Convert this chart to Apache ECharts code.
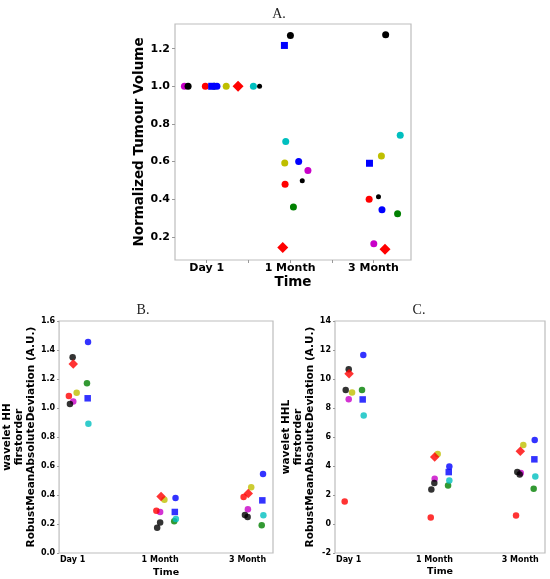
<!DOCTYPE html>
<html>
<head>
<meta charset="utf-8">
<script src="https://cdn.jsdelivr.net/npm/echarts@6/dist/echarts.min.js"></script>
<style>html,body{margin:0;padding:0;background:#fff}#c{width:550px;height:579px}</style>
</head>
<body>
<div id="c"></div>
<script>
// ---- data ----
const categories = ['Day 1', '1 Month', '3 Month'];
// patient order (draw order): green, magenta, black1, red, blueSquare, blue, yellow, redDiamond, cyan, black2
const patients = ['green', 'magenta', 'black1', 'red', 'blueSquare', 'blue', 'yellow', 'redDiamond', 'cyan', 'black2'];

// Panel A: normalized tumour volume
const volumeY = [
  [1.0, 0.358, 0.323],
  [1.0, 0.553, 0.163],
  [1.0, 1.270, 1.274],
  [1.0, 0.480, 0.400],
  [1.0, 1.217, 0.591],
  [1.0, 0.600, 0.344],
  [1.0, 0.593, 0.630],
  [1.0, 0.143, 0.134],
  [1.0, 0.707, 0.740],
  [1.0, 0.498, 0.413]
];
// horizontal jitter of each point from its category position
const volumeJitter = [
  [0.09, 0.04, 0.289],
  [-0.267, 0.214, 0.004],
  [-0.223, 0.004, 0.146],
  [-0.016, -0.06, -0.052],
  [0.06, -0.068, -0.048],
  [0.123, 0.103, 0.102],
  [0.234, -0.064, 0.095],
  [0.376, -0.088, 0.138],
  [0.56, -0.052, 0.321],
  [0.634, 0.146, 0.06]
];

// Panel B: wavelet HH firstorder RobustMeanAbsoluteDeviation
const hhY = [
  [1.17, 0.219, 0.191],
  [1.044, 0.283, 0.301],
  [1.35, 0.21, 0.248],
  [1.083, 0.292, 0.386],
  [1.067, 0.283, 0.363],
  [1.455, 0.379, 0.545],
  [1.106, 0.368, 0.453],
  [1.303, 0.389, 0.41],
  [0.892, 0.235, 0.26],
  [1.028, 0.175, 0.262]
];
const hhJitter = [
  [0.164, 0.161, 0.161],
  [0.007, 0.0, 0.003],
  [0.0, 0.0, 0.0],
  [-0.043, -0.043, -0.046],
  [0.172, 0.168, 0.168],
  [0.176, 0.176, 0.176],
  [0.046, 0.049, 0.041],
  [0.007, 0.011, 0.007],
  [0.18, 0.18, 0.18],
  [-0.031, -0.034, -0.031]
];

// Panel C: wavelet HHL firstorder RobustMeanAbsoluteDeviation
const hhlY = [
  [9.25, 2.66, 2.43],
  [8.61, 3.12, 3.51],
  [10.68, 2.82, 3.42],
  [1.55, 0.44, 0.58],
  [8.59, 3.58, 4.46],
  [11.65, 3.97, 5.79],
  [9.07, 4.82, 5.45],
  [10.36, 4.62, 5.01],
  [7.48, 3.0, 3.28],
  [9.25, 2.38, 3.58]
];
const hhlJitter = [
  [0.155, 0.159, 0.158],
  [0.0, 0.003, 0.007],
  [0.0, -0.001, -0.005],
  [-0.047, -0.043, -0.048],
  [0.163, 0.167, 0.166],
  [0.17, 0.174, 0.17],
  [0.039, 0.038, 0.037],
  [0.004, 0.003, 0.002],
  [0.175, 0.174, 0.177],
  [-0.035, -0.036, -0.033]
];

const volumeTicks = [0.2, 0.4, 0.6, 0.8, 1.0, 1.2];

// ---- styles ----
const colors = ['#008000', '#c800c8', '#000000', '#ff0000', '#0000ff', '#0000ff', '#bfbf00', '#ff0000', '#00bfbf', '#000000'];
const symbols = ['circle', 'circle', 'circle', 'circle', 'rect', 'circle', 'circle', 'diamond', 'circle', 'circle'];
const sizesA = [7, 7, 7, 7, 7, 7, 7, 11, 7, 5];
const sizesBC = [6.5, 6.5, 6.5, 6.5, 6.5, 6.5, 6.5, 9.5, 6.5, 6.5];
const FONT = 'DejaVu Sans';
const FRAME = '#bdbdbd';

function makeSeries(idx, Y, J, sizes, opacity) {
  return patients.map((p, i) => ({
    name: p,
    type: 'scatter',
    xAxisIndex: idx,
    yAxisIndex: idx,
    symbol: symbols[i],
    symbolSize: sizes[i],
    itemStyle: { color: colors[i], opacity: opacity },
    data: categories.map((c, k) => [k + J[i][k], Y[i][k]])
  }));
}

function xAxisDef(idx, min, max, fs, nameFs, gap, labMargin) {
  return {
    type: 'value', gridIndex: idx, min: min, max: max,
    name: 'Time', nameLocation: 'middle', nameGap: gap,
    nameTextStyle: { fontFamily: FONT, fontWeight: 'bold', fontSize: nameFs, color: '#000' },
    axisLine: { show: false, onZero: false },
    splitLine: { show: false },
    axisTick: { show: idx === 0, length: 3, lineStyle: { color: '#999' }, customValues: [0, 0.5, 1, 1.5, 2] },
    axisLabel: {
      customValues: [0, 1, 2], margin: labMargin,
      fontFamily: FONT, fontWeight: 'bold', fontSize: fs, color: '#000',
      formatter: v => categories[Math.round(v)]
    }
  };
}

const option = {
  animation: false,
  backgroundColor: '#fff',
  title: [
    { text: 'A.', left: 274, top: 2, textAlign: 'center', textStyle: { fontFamily: 'Liberation Serif', fontWeight: 'normal', fontSize: 14, color: '#222' } },
    { text: 'B.', left: 138, top: 298, textAlign: 'center', textStyle: { fontFamily: 'Liberation Serif', fontWeight: 'normal', fontSize: 14, color: '#222' } },
    { text: 'C.', left: 414, top: 298, textAlign: 'center', textStyle: { fontFamily: 'Liberation Serif', fontWeight: 'normal', fontSize: 14, color: '#222' } }
  ],
  grid: [
    { left: 175, top: 24, width: 236, height: 236, show: true, borderColor: FRAME, borderWidth: 1.2 },
    { left: 59, top: 321, width: 214, height: 232, show: true, borderColor: FRAME, borderWidth: 1.2 },
    { left: 335, top: 321, width: 210, height: 232, show: true, borderColor: FRAME, borderWidth: 1.2 }
  ],
  xAxis: [
    xAxisDef(0, -0.38, 2.45, 11, 13.5, 15, 3),
    xAxisDef(1, -0.155, 2.29, 8, 9.5, 15, 3),
    xAxisDef(2, -0.16, 2.29, 8, 9.5, 14, 3)
  ],
  yAxis: [
    {
      type: 'value', gridIndex: 0, min: 0.077, max: 1.331,
      name: 'Normalized Tumour Volume', nameLocation: 'middle', nameGap: 23,
      nameTextStyle: { fontFamily: FONT, fontWeight: 'bold', fontSize: 13.5, color: '#000' },
      axisLine: { show: false, onZero: false }, splitLine: { show: false },
      axisTick: { show: true, length: 3, lineStyle: { color: '#999' }, customValues: volumeTicks },
      axisLabel: { customValues: volumeTicks, margin: 5, fontFamily: FONT, fontWeight: 'bold', fontSize: 11, color: '#000', formatter: v => v.toFixed(1) }
    },
    {
      type: 'value', gridIndex: 1, min: 0, max: 1.6, interval: 0.2,
      name: 'wavelet HH\nfirstorder\nRobustMeanAbsoluteDeviation (A.U.)', nameLocation: 'middle', nameGap: 18,
      nameTextStyle: { fontFamily: FONT, fontWeight: 'bold', fontSize: 10.5, lineHeight: 12, color: '#000' },
      axisLine: { show: false, onZero: false }, splitLine: { show: false },
      axisTick: { show: true, length: 2, lineStyle: { color: '#999' } },
      axisLabel: { margin: 4, fontFamily: FONT, fontWeight: 'bold', fontSize: 8, color: '#000', formatter: v => v.toFixed(1) }
    },
    {
      type: 'value', gridIndex: 2, min: -2, max: 14, interval: 2,
      name: 'wavelet HHL\nfirstorder\nRobustMeanAbsoluteDeviation (A.U.)', nameLocation: 'middle', nameGap: 16,
      nameTextStyle: { fontFamily: FONT, fontWeight: 'bold', fontSize: 10.5, lineHeight: 12, color: '#000' },
      axisLine: { show: false, onZero: false }, splitLine: { show: false },
      axisTick: { show: true, length: 2, lineStyle: { color: '#999' } },
      axisLabel: { margin: 4, fontFamily: FONT, fontWeight: 'bold', fontSize: 8, color: '#000' }
    }
  ],
  series: [].concat(
    makeSeries(0, volumeY, volumeJitter, sizesA, 1),
    makeSeries(1, hhY, hhJitter, sizesBC, 0.8),
    makeSeries(2, hhlY, hhlJitter, sizesBC, 0.8)
  )
};

const chart = echarts.init(document.getElementById('c'), null, { renderer: 'canvas' });
chart.setOption(option);
</script>
</body>
</html>
